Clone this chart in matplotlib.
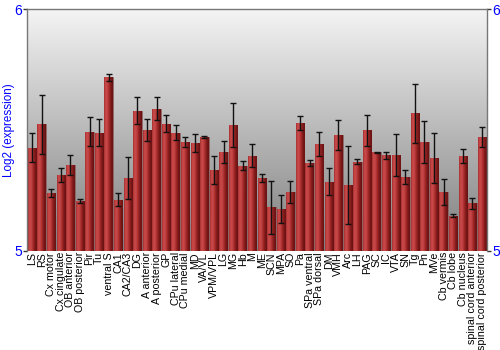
import numpy as np
import matplotlib
matplotlib.use("Agg")
import matplotlib.pyplot as plt
from matplotlib.colors import LinearSegmentedColormap

regions = ["LS", "RS", "Cx motor", "Cx cingulate", "OB anterior", "OB posterior",
           "Pir", "Tu", "ventral S", "CA1", "CA2/CA3", "DG", "A anterior",
           "A posterior", "GP", "CPu lateral", "CPu medial", "MD", "VA/VL",
           "VPM/VPL", "LG", "MG", "Hb", "M", "ME", "SCN", "MPA", "SO", "Pa",
           "SPa ventral", "SPa dorsal", "DM", "VMH", "Arc", "LH", "PAG", "SC",
           "IC", "VTA", "SN", "Tg", "Pn", "MVe", "Cb vermis", "Cb lobe",
           "Cb nucleus", "spinal cord anterior", "spinal cord posterior"]

values = [5.427, 5.523, 5.238, 5.314, 5.355, 5.207, 5.493, 5.488, 5.718, 5.211,
          5.301, 5.579, 5.500, 5.588, 5.526, 5.488, 5.450, 5.446, 5.471, 5.334,
          5.410, 5.521, 5.352, 5.394, 5.301, 5.180, 5.173, 5.243, 5.530, 5.363,
          5.442, 5.286, 5.479, 5.272, 5.369, 5.499, 5.407, 5.395, 5.396, 5.305,
          5.569, 5.452, 5.384, 5.243, 5.145, 5.392, 5.196, 5.472]

errors = [0.060, 0.124, 0.016, 0.030, 0.041, 0.009, 0.061, 0.056, 0.015, 0.026,
          0.088, 0.056, 0.044, 0.047, 0.036, 0.031, 0.019, 0.039, 0.004, 0.057,
          0.045, 0.090, 0.019, 0.046, 0.015, 0.110, 0.057, 0.047, 0.028, 0.011,
          0.048, 0.055, 0.062, 0.160, 0.009, 0.065, 0.002, 0.015, 0.088, 0.028,
          0.122, 0.087, 0.102, 0.052, 0.006, 0.030, 0.022, 0.041]

y_ticks = [5, 6]

fonts = ["Liberation Sans", "DejaVu Sans"]

fig = plt.figure(figsize=(5, 3.5), dpi=100)
ax = fig.add_axes([0.0547, 0.2837, 0.9186, 0.6897])

x = np.arange(len(regions))
ax.set_xlim(-0.5, len(regions) - 0.5)
ax.set_ylim(5, 6)

# background gradient
bg = LinearSegmentedColormap.from_list("bg", ["#7e7e7e", "#f4f4f4"])
grad = np.linspace(0, 1, 256).reshape(-1, 1)
ax.imshow(grad, aspect="auto", cmap=bg, origin="lower",
          extent=[-0.5, len(regions) - 0.5, 5, 6], zorder=0)

bars = ax.bar(x, np.array(values) - 5, bottom=5, width=0.88,
              color="#b03030", edgecolor="#8a6a6a", linewidth=0.6, zorder=2)

barcmap = LinearSegmentedColormap.from_list(
    "bar", ["#a53030", "#cc4b4b", "#c04040", "#a02828", "#7a1818", "#6a1212"])
hgrad = np.linspace(0, 1, 64).reshape(1, -1)
for b in bars:
    x0, y0 = b.get_x(), b.get_y()
    w, h = b.get_width(), b.get_height()
    im = ax.imshow(hgrad, aspect="auto", cmap=barcmap,
                   extent=[x0, x0 + w, y0, y0 + h], zorder=2.5)
    im.set_clip_path(b)

ax.errorbar(x, values, yerr=errors, fmt="none", ecolor="#111111",
            elinewidth=1.0, capsize=2.2, capthick=1.0, zorder=4)

ax.set_xticks(x)
ax.set_xticklabels(regions, rotation=90, fontsize=7.7, family=fonts)
ax.tick_params(axis="x", length=0, pad=1)

ax.set_yticks(y_ticks)
ax.set_yticklabels([str(t) for t in y_ticks])
ax.tick_params(axis="y", which="both", left=True, right=True,
               labelleft=True, labelright=True, length=3, width=1,
               color="#333333", labelcolor="blue", labelsize=10, pad=1)
for lab in ax.yaxis.get_ticklabels(which="both"):
    lab.set_family(fonts)
for t in ax.yaxis.get_major_ticks():
    t.label2.set_family(fonts)

ax.set_ylabel("Log2 (expression)", color="blue", fontsize=8.4, family=fonts)
ax.yaxis.set_label_coords(-0.026, 0.5)

for s in ["left", "right", "top"]:
    ax.spines[s].set_color("#777777")
    ax.spines[s].set_linewidth(1.0)
ax.spines["bottom"].set_visible(False)

fig.savefig("out.png", dpi=100)
